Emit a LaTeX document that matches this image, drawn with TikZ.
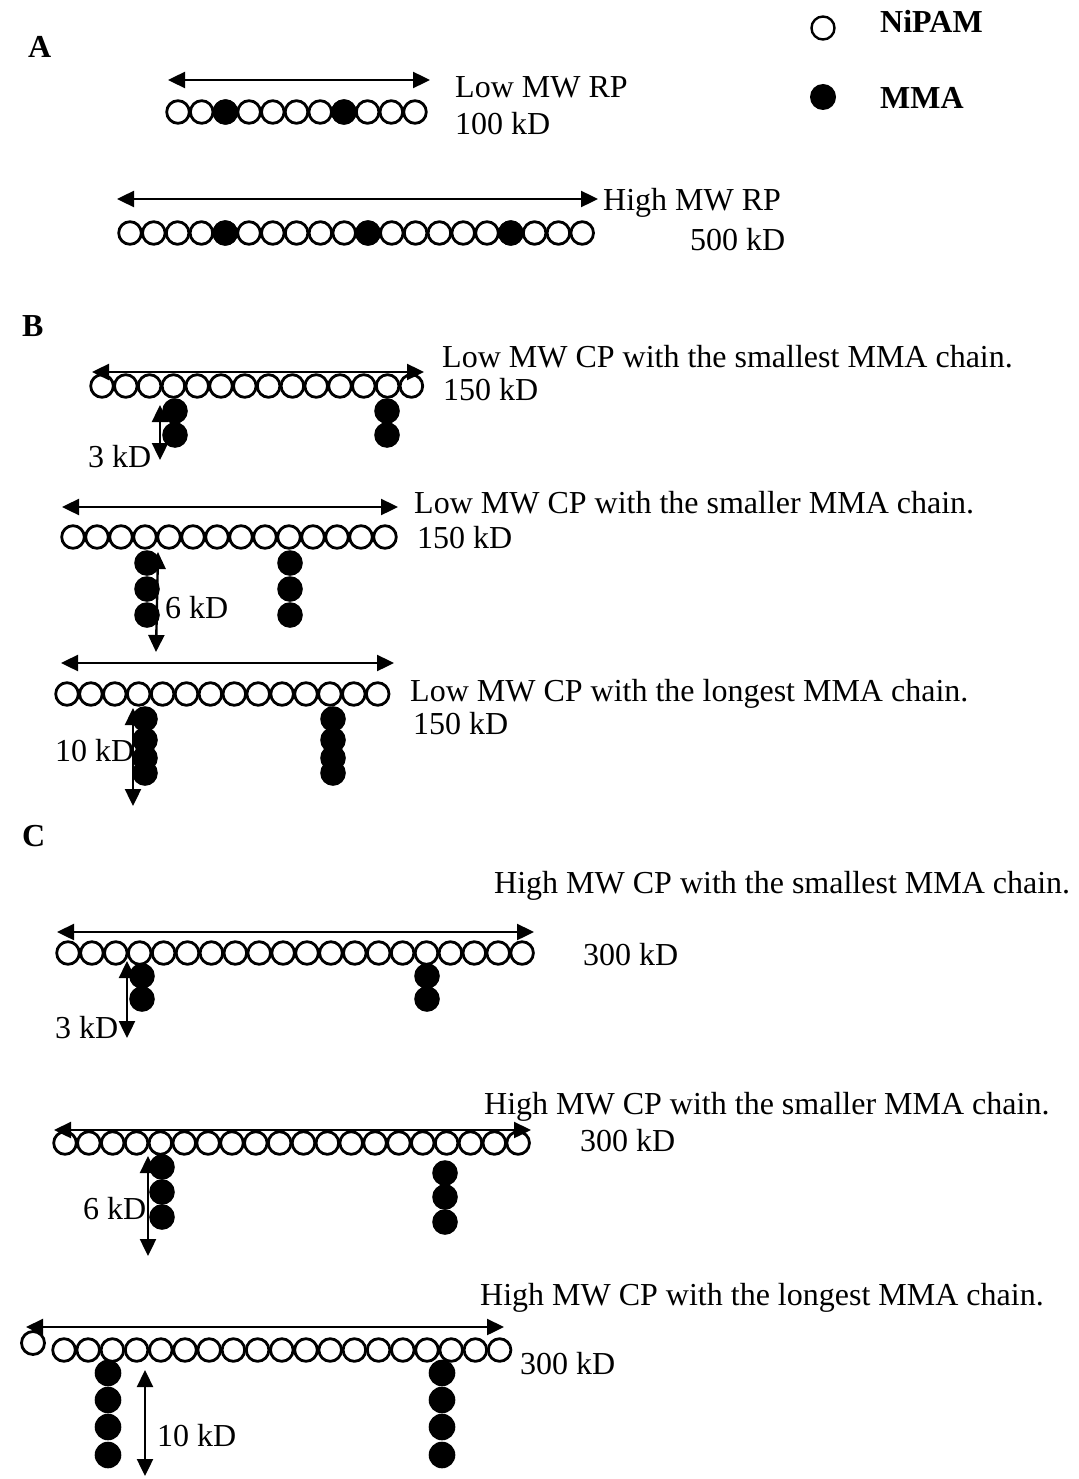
\documentclass[tikz,border=0pt]{standalone}
\usepackage{fontspec}
\setmainfont{Liberation Serif}
\usetikzlibrary{arrows.meta}
\newcommand\fsz{\fontsize{32}{38}\selectfont}
\tikzset{
  nip/.style={draw=black, fill=white, line width=2.8pt},
  mma/.style={fill=black},
  lbl/.style={anchor=base west, inner sep=0pt, font=\fsz},
  blbl/.style={anchor=base west, inner sep=0pt, font=\fsz\bfseries},
  dbl/.style={line width=2.4pt, {Triangle[length=17pt,width=16pt]}-{Triangle[length=17pt,width=16pt]}}
}
\begin{document}
\begin{tikzpicture}[x=1pt,y=-1pt]
\fill[white] (0,0) rectangle (1078,1479);
\useasboundingbox (0,0) rectangle (1078,1479);

% ---------- legend ----------
\draw[nip, line width=2.4pt] (823,28) circle (11.5);
\fill[mma] (823,97) circle (13);
\node[blbl] (legN) at (880,33) {NiPAM};
\node[blbl] (legM) at (880,109) {MMA};

% ---------- section letters ----------
\node[blbl] (secA) at (28,58) {A};
\node[blbl] (secB) at (22,336) {B};
\node[blbl] (secC) at (22,846) {C};

% ================= A =================
\coordinate (a1l) at (168,80); \coordinate (a1r) at (430,80);
\draw[dbl] (a1l) -- (a1r);
\foreach \i in {0,...,10} \draw[nip] ({178+\i*23.7},112) circle (11.3);
\foreach \i in {2,7} \draw[nip, fill=black] ({178+\i*23.7},112) circle (11.3);
\node[lbl] (lowrp) at (455,98) {Low MW RP};
\node[lbl] (kd100) at (455,135) {100 kD};

\coordinate (a2l) at (117,199); \coordinate (a2r) at (598,199);
\draw[dbl] (a2l) -- (a2r);
\foreach \i in {0,...,19} \draw[nip] ({130+\i*23.8},233) circle (11.3);
\foreach \i in {4,10,16} \draw[nip, fill=black] ({130+\i*23.8},233) circle (11.3);
\node[lbl] (highrp) at (603,211) {High MW RP};
\node[lbl] (kd500) at (690,251) {500 kD};

% ================= B =================
% B1
\foreach \y in {411,435} {\fill[mma] (175,\y) circle (12.8); \fill[mma] (387,\y) circle (12.8);}
\foreach \i in {0,...,13} \draw[nip] ({102+\i*23.8},386) circle (11.3);
\coordinate (b1l) at (92,372); \coordinate (b1r) at (424,372);
\draw[dbl] (b1l) -- (b1r);
\coordinate (b1t) at (160,405); \coordinate (b1b) at (160,460);
\draw[dbl] (b1t) -- (b1b);
\node[lbl] (b1title) at (442,367) {Low MW CP with the smallest MMA chain.};
\node[lbl] (b1kd) at (443,400) {150 kD};
\node[lbl] (b1len) at (88,467) {3 kD};

% B2
\foreach \y in {563,589,615} {\fill[mma] (147,\y) circle (12.8); \fill[mma] (290,\y) circle (12.8);}
\foreach \i in {0,...,13} \draw[nip] ({73+\i*24},537) circle (11.3);
\coordinate (b2l) at (62,507); \coordinate (b2r) at (398,507);
\draw[dbl] (b2l) -- (b2r);
\coordinate (b2t) at (158,552); \coordinate (b2b) at (156,652);
\draw[dbl] (b2t) -- (b2b);
\node[lbl] (b2title) at (414,513) {Low MW CP with the smaller MMA chain.};
\node[lbl] (b2kd) at (417,548) {150 kD};
\node[lbl] (b2len) at (165,618) {6 kD};

% B3
\foreach \y in {719,740,758,773} {\fill[mma] (145,\y) circle (12.8); \fill[mma] (333,\y) circle (12.8);}
\foreach \i in {0,...,13} \draw[nip] ({67+\i*23.9},694) circle (11.3);
\coordinate (b3l) at (61,663); \coordinate (b3r) at (394,663);
\draw[dbl] (b3l) -- (b3r);
\coordinate (b3t) at (133,708); \coordinate (b3b) at (133,806);
\draw[dbl] (b3t) -- (b3b);
\node[lbl] (b3title) at (410,701) {Low MW CP with the longest MMA chain.};
\node[lbl] (b3kd) at (413,734) {150 kD};
\node[lbl] (b3len) at (55,761) {10 kD};

% ================= C =================
% C1
\foreach \y in {976,999} {\fill[mma] (142,\y) circle (12.8); \fill[mma] (427,\y) circle (12.8);}
\foreach \i in {0,...,19} \draw[nip] ({68+\i*23.9},953) circle (11.3);
\coordinate (c1l) at (57,932); \coordinate (c1r) at (534,932);
\draw[dbl] (c1l) -- (c1r);
\coordinate (c1t) at (127,961); \coordinate (c1b) at (127,1038);
\draw[dbl] (c1t) -- (c1b);
\node[lbl] (c1title) at (494,893) {High MW CP with the smallest MMA chain.};
\node[lbl] (c1kd) at (583,965) {300 kD};
\node[lbl] (c1len) at (55,1038) {3 kD};

% C2
\foreach \y in {1167,1192,1217} {\fill[mma] (162,\y) circle (12.8);}
\foreach \y in {1173,1197,1222} {\fill[mma] (445,\y) circle (12.8);}
\foreach \i in {0,...,19} \draw[nip] ({65+\i*23.85},1143) circle (11.3);
\coordinate (c2l) at (54,1130); \coordinate (c2r) at (531,1130);
\draw[dbl] (c2l) -- (c2r);
\coordinate (c2t) at (148,1156); \coordinate (c2b) at (148,1256);
\draw[dbl] (c2t) -- (c2b);
\node[lbl] (c2title) at (484,1114) {High MW CP with the smaller MMA chain.};
\node[lbl] (c2kd) at (580,1151) {300 kD};
\node[lbl] (c2len) at (83,1219) {6 kD};

% C3
\foreach \y in {1373,1400,1427,1455} {\fill[mma] (108,\y) circle (13.3); \fill[mma] (442,\y) circle (13.3);}
\draw[nip] (33,1343) circle (11.5);
\foreach \i in {0,...,18} \draw[nip] ({64+\i*24.2},1350) circle (11.3);
\coordinate (c3l) at (26,1327); \coordinate (c3r) at (504,1327);
\draw[dbl] (c3l) -- (c3r);
\coordinate (c3t) at (145,1370); \coordinate (c3b) at (145,1476);
\draw[dbl] (c3t) -- (c3b);
\node[lbl] (c3title) at (480,1305) {High MW CP with the longest MMA chain.};
\node[lbl] (c3kd) at (520,1374) {300 kD};
\node[lbl] (c3len) at (157,1446) {10 kD};
\end{tikzpicture}
\end{document}
